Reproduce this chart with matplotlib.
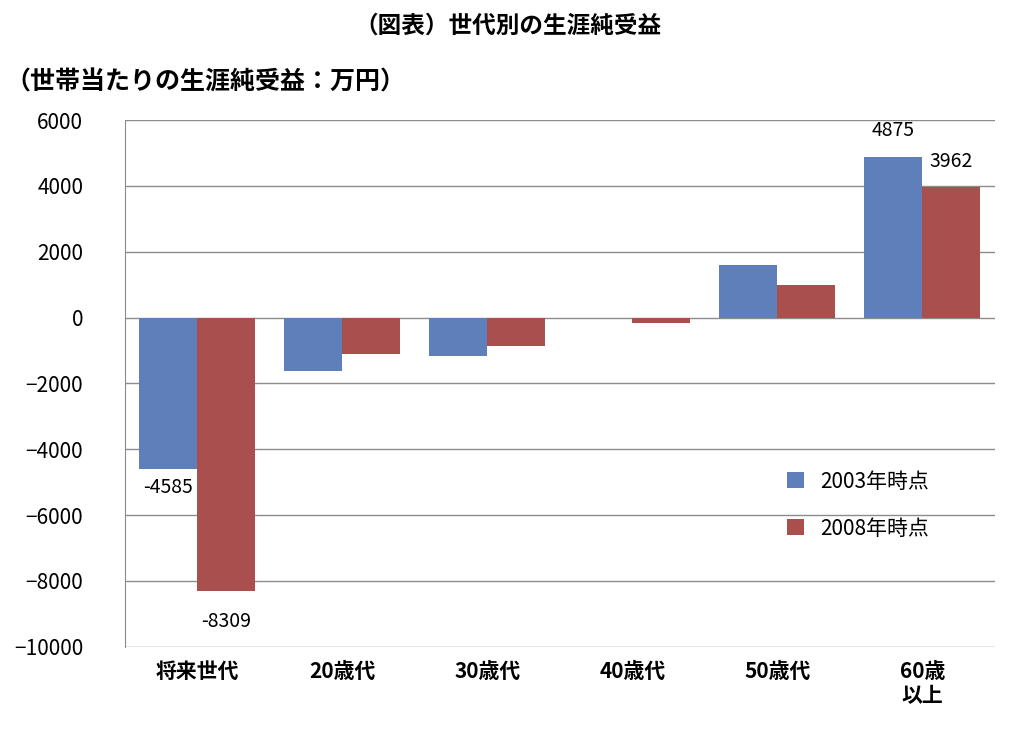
import numpy as np
import matplotlib.pyplot as plt

plt.rcParams['font.family'] = ['Noto Sans CJK JP', 'DejaVu Sans']

categories = ['将来世代', '20歳代', '30歳代', '40歳代', '50歳代', '60歳\n以上']
v2003 = [-4585, -1630, -1180, -20, 1590, 4875]
v2008 = [-8309, -1100, -850, -170, 980, 3962]

fig = plt.figure(figsize=(10.15, 7.46), dpi=100)
ax = fig.add_axes([0.123, 0.133, 0.857, 0.706])

x = np.arange(len(categories))
w = 0.4
ax.bar(x - w / 2, v2003, w, color='#5F7FBA', label='2003年時点', zorder=3)
ax.bar(x + w / 2, v2008, w, color='#A9504F', label='2008年時点', zorder=3)

ax.set_ylim(-10000, 6000)
ax.set_xlim(-0.5, len(categories) - 0.5)
ax.set_yticks(range(-10000, 6001, 2000))
ax.tick_params(axis='y', labelsize=15, length=0, pad=30)
ax.tick_params(axis='x', labelsize=15, length=0, pad=10)
ax.set_xticks(x)
ax.set_xticklabels(categories, fontweight='bold')
ax.yaxis.grid(True, color='#8c8c8c', linewidth=1, zorder=0)
for s in ['top', 'right', 'bottom']:
    ax.spines[s].set_visible(False)
ax.spines['left'].set_color('#8c8c8c')

# data labels
ax.text(x[0] - w / 2, v2003[0] - 250, str(v2003[0]), ha='center', va='top', fontsize=14)
ax.text(x[0] + w / 2, v2008[0] - 600, str(v2008[0]), ha='center', va='top', fontsize=14)
ax.text(x[5] - w / 2, v2003[5] + 500, str(v2003[5]), ha='center', va='bottom', fontsize=14)
ax.text(x[5] + w / 2, v2008[5] + 450, str(v2008[5]), ha='center', va='bottom', fontsize=14)

ax.legend(loc='upper left', bbox_to_anchor=(0.74, 0.37), frameon=False,
          fontsize=15, handlelength=0.8, handleheight=0.8, labelspacing=1.2)

fig.text(0.5, 0.965, '（図表）世代別の生涯純受益', ha='center', va='center',
         fontsize=17, fontweight='bold')
fig.text(0.005, 0.89, '（世帯当たりの生涯純受益：万円）', ha='left', va='center',
         fontsize=18, fontweight='bold')

fig.savefig('out.png', dpi=100)
